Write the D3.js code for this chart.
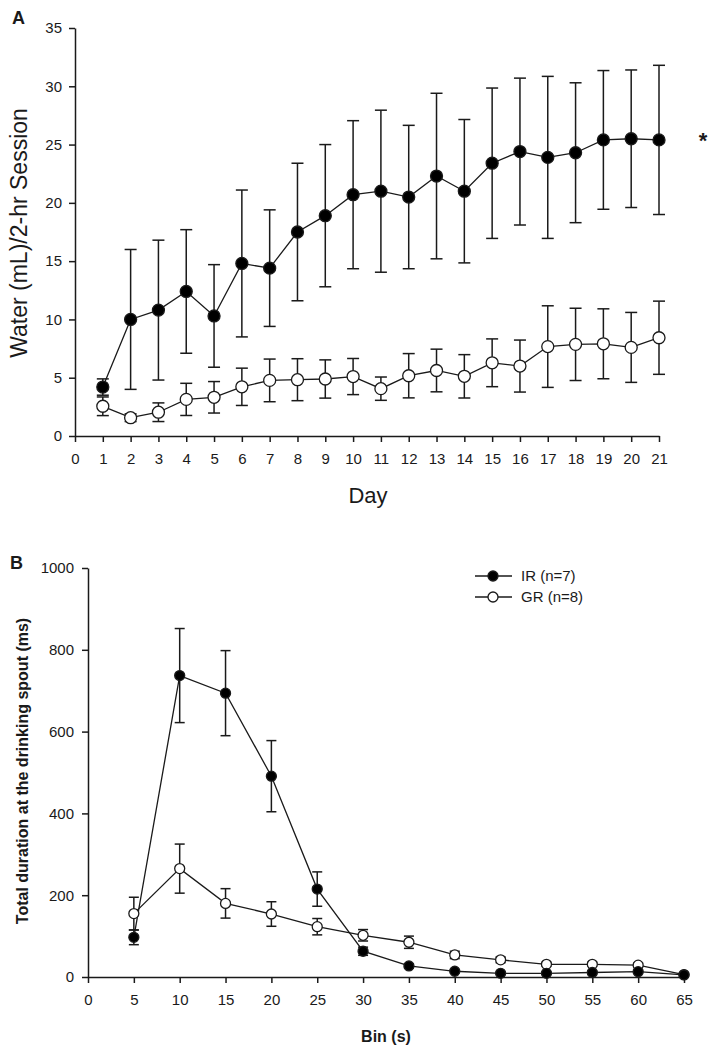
<!DOCTYPE html>
<html><head><meta charset="utf-8">
<script src="https://cdn.jsdelivr.net/npm/d3@7"></script>
<style>body{margin:0;background:#fff}svg{display:block;font-family:"Liberation Sans",Arial,sans-serif}</style>
</head><body>
<svg id="c" width="714" height="1051"></svg>
<script>
// Panel A data
const days = d3.range(1, 22);
const irMeanA = [4.2,10.0,10.8,12.4,10.3,14.8,14.4,17.5,18.9,20.7,21.0,20.5,22.3,21.0,23.4,24.4,23.9,24.3,25.4,25.5,25.4];
const irErrA  = [0.7,6.0,6.0,5.3,4.4,6.3,5.0,5.9,6.1,6.35,6.95,6.15,7.1,6.15,6.45,6.3,6.95,6.0,5.95,5.9,6.4];
const grMeanA = [2.55,1.57,2.04,3.14,3.32,4.22,4.77,4.83,4.89,5.1,4.06,5.17,5.62,5.12,6.28,6.0,7.67,7.86,7.91,7.6,8.43];
const grErrA  = [0.8,0.33,0.8,1.38,1.35,1.6,1.83,1.8,1.64,1.55,1.0,1.9,1.83,1.86,2.05,2.23,3.5,3.1,3.0,3.0,3.14];
const xTicksA = d3.range(0, 22);
const yTicksA = [0,5,10,15,20,25,30,35];

// Panel B data
const bins = [5,10,15,20,25,30,35,40,45,50,55,60,65];
const irMeanB = [97,737,694,491,215,63,27,14,9,9,11,13,5];
const irErrB  = [18,115,104,87,42,10,5,4,3,3,3,3,2];
const grMeanB = [155,265,180,154,123,102,85,54,42,31,31,29,6];
const grErrB  = [40,60,36,30,20,14,15,9,7,5,5,5,2];
const xTicksB = [0,5,10,15,20,25,30,35,40,45,50,55,60,65];
const yTicksB = [0,200,400,600,800,1000];
const legendLabels = ["IR (n=7)", "GR (n=8)"];

const svg = d3.select("#c");
const ink = "#1a1a1a";

function panel(opts) {
  const g = svg.append("g");
  const x = d3.scaleLinear().domain(opts.xDomain).range(opts.xRange);
  const y = d3.scaleLinear().domain(opts.yDomain).range(opts.yRange);
  const fmt = d3.format("d");
  const xAxis = d3.axisBottom(x).tickValues(opts.xTicks).tickFormat(fmt).tickSize(6).tickPadding(opts.xPad).tickSizeOuter(0);
  const yAxis = d3.axisLeft(y).tickValues(opts.yTicks).tickFormat(fmt).tickSize(6).tickPadding(opts.yPad).tickSizeOuter(0);
  const gx = g.append("g").attr("transform", `translate(0,${opts.yRange[0]})`).call(xAxis);
  const gy = g.append("g").attr("transform", `translate(${opts.xRange[0]},0)`).call(yAxis);
  [gx, gy].forEach(a => {
    a.selectAll("path,line").attr("stroke", ink).attr("stroke-width", 1.5);
    a.selectAll("text").attr("fill", ink).style("font-size", opts.tickFont + "px").style("font-family", '"Liberation Sans",Arial,sans-serif');
  });
  const series = opts.series;
  series.forEach(s => {
    const eb = g.append("g").attr("stroke", ink).attr("stroke-width", 1.5);
    s.x.forEach((xv, i) => {
      const m = s.mean[i], e = s.err[i];
      const cx = x(xv);
      const lo = Math.max(0, m - e), hi = m + e;
      eb.append("line").attr("x1", cx).attr("x2", cx).attr("y1", y(hi)).attr("y2", y(lo));
      eb.append("line").attr("x1", cx - opts.cap).attr("x2", cx + opts.cap).attr("y1", y(hi)).attr("y2", y(hi));
      eb.append("line").attr("x1", cx - opts.cap).attr("x2", cx + opts.cap).attr("y1", y(lo)).attr("y2", y(lo));
    });
  });
  series.forEach(s => {
    const line = d3.line().x((d, i) => x(s.x[i])).y(d => y(d));
    g.append("path").datum(s.mean).attr("d", line).attr("fill", "none").attr("stroke", ink).attr("stroke-width", 1.3);
  });
  series.slice().reverse().forEach(s => {
    g.append("g").selectAll("circle").data(s.mean).join("circle")
      .attr("cx", (d, i) => x(s.x[i])).attr("cy", d => y(d)).attr("r", opts.r)
      .attr("fill", s.fill).attr("stroke", ink).attr("stroke-width", 1.3);
  });
  return {g, x, y};
}

// Panel A
panel({
  xDomain: [0, 21], xRange: [75, 659], yDomain: [0, 35], yRange: [436, 28],
  xTicks: xTicksA, yTicks: yTicksA, tickFont: 15, cap: 6, r: 6, xPad: 11, yPad: 7,
  series: [
    {x: days, mean: irMeanA, err: irErrA, fill: "#000"},
    {x: days, mean: grMeanA, err: grErrA, fill: "#fff"}
  ]
});
svg.append("text").attr("x", 12).attr("y", 24).text("A").style("font-weight", "bold").style("font-size", "18px").attr("fill", ink);
svg.append("text").attr("transform", "translate(27,233) rotate(-90)").attr("text-anchor", "middle")
  .text("Water (mL)/2-hr Session").style("font-size", "23px").attr("fill", ink);
svg.append("text").attr("x", 368).attr("y", 503).attr("text-anchor", "middle").text("Day").style("font-size", "22px").attr("fill", ink);
svg.append("text").attr("x", 703).attr("y", 148).attr("text-anchor", "middle").text("*").style("font-size", "22px").style("font-weight", "bold").attr("fill", ink);

// Panel B
panel({
  xDomain: [0, 65], xRange: [88, 684], yDomain: [0, 1000], yRange: [977, 568],
  xTicks: xTicksB, yTicks: yTicksB, tickFont: 15, cap: 5, r: 5, xPad: 11, yPad: 8,
  series: [
    {x: bins, mean: irMeanB, err: irErrB, fill: "#000"},
    {x: bins, mean: grMeanB, err: grErrB, fill: "#fff"}
  ]
});
svg.append("text").attr("x", 10).attr("y", 569).text("B").style("font-weight", "bold").style("font-size", "18px").attr("fill", ink);
svg.append("text").attr("transform", "translate(28,771) rotate(-90)").attr("text-anchor", "middle")
  .text("Total duration at the drinking spout (ms)").style("font-size", "16px").style("font-weight", "bold").attr("fill", ink);
svg.append("text").attr("x", 386).attr("y", 1042).attr("text-anchor", "middle").text("Bin (s)").style("font-size", "16px").style("font-weight", "bold").attr("fill", ink);

// Legend
const leg = svg.append("g");
legendLabels.forEach((lab, i) => {
  const yy = 576 + i * 21;
  leg.append("line").attr("x1", 475).attr("x2", 512).attr("y1", yy).attr("y2", yy).attr("stroke", ink).attr("stroke-width", 1.3);
  leg.append("circle").attr("cx", 493).attr("cy", yy).attr("r", 5).attr("fill", i === 0 ? "#000" : "#fff").attr("stroke", ink).attr("stroke-width", 1.3);
  leg.append("text").attr("x", 521).attr("y", yy + 5).text(lab).style("font-size", "15px").attr("fill", ink);
});
</script>
</body></html>
